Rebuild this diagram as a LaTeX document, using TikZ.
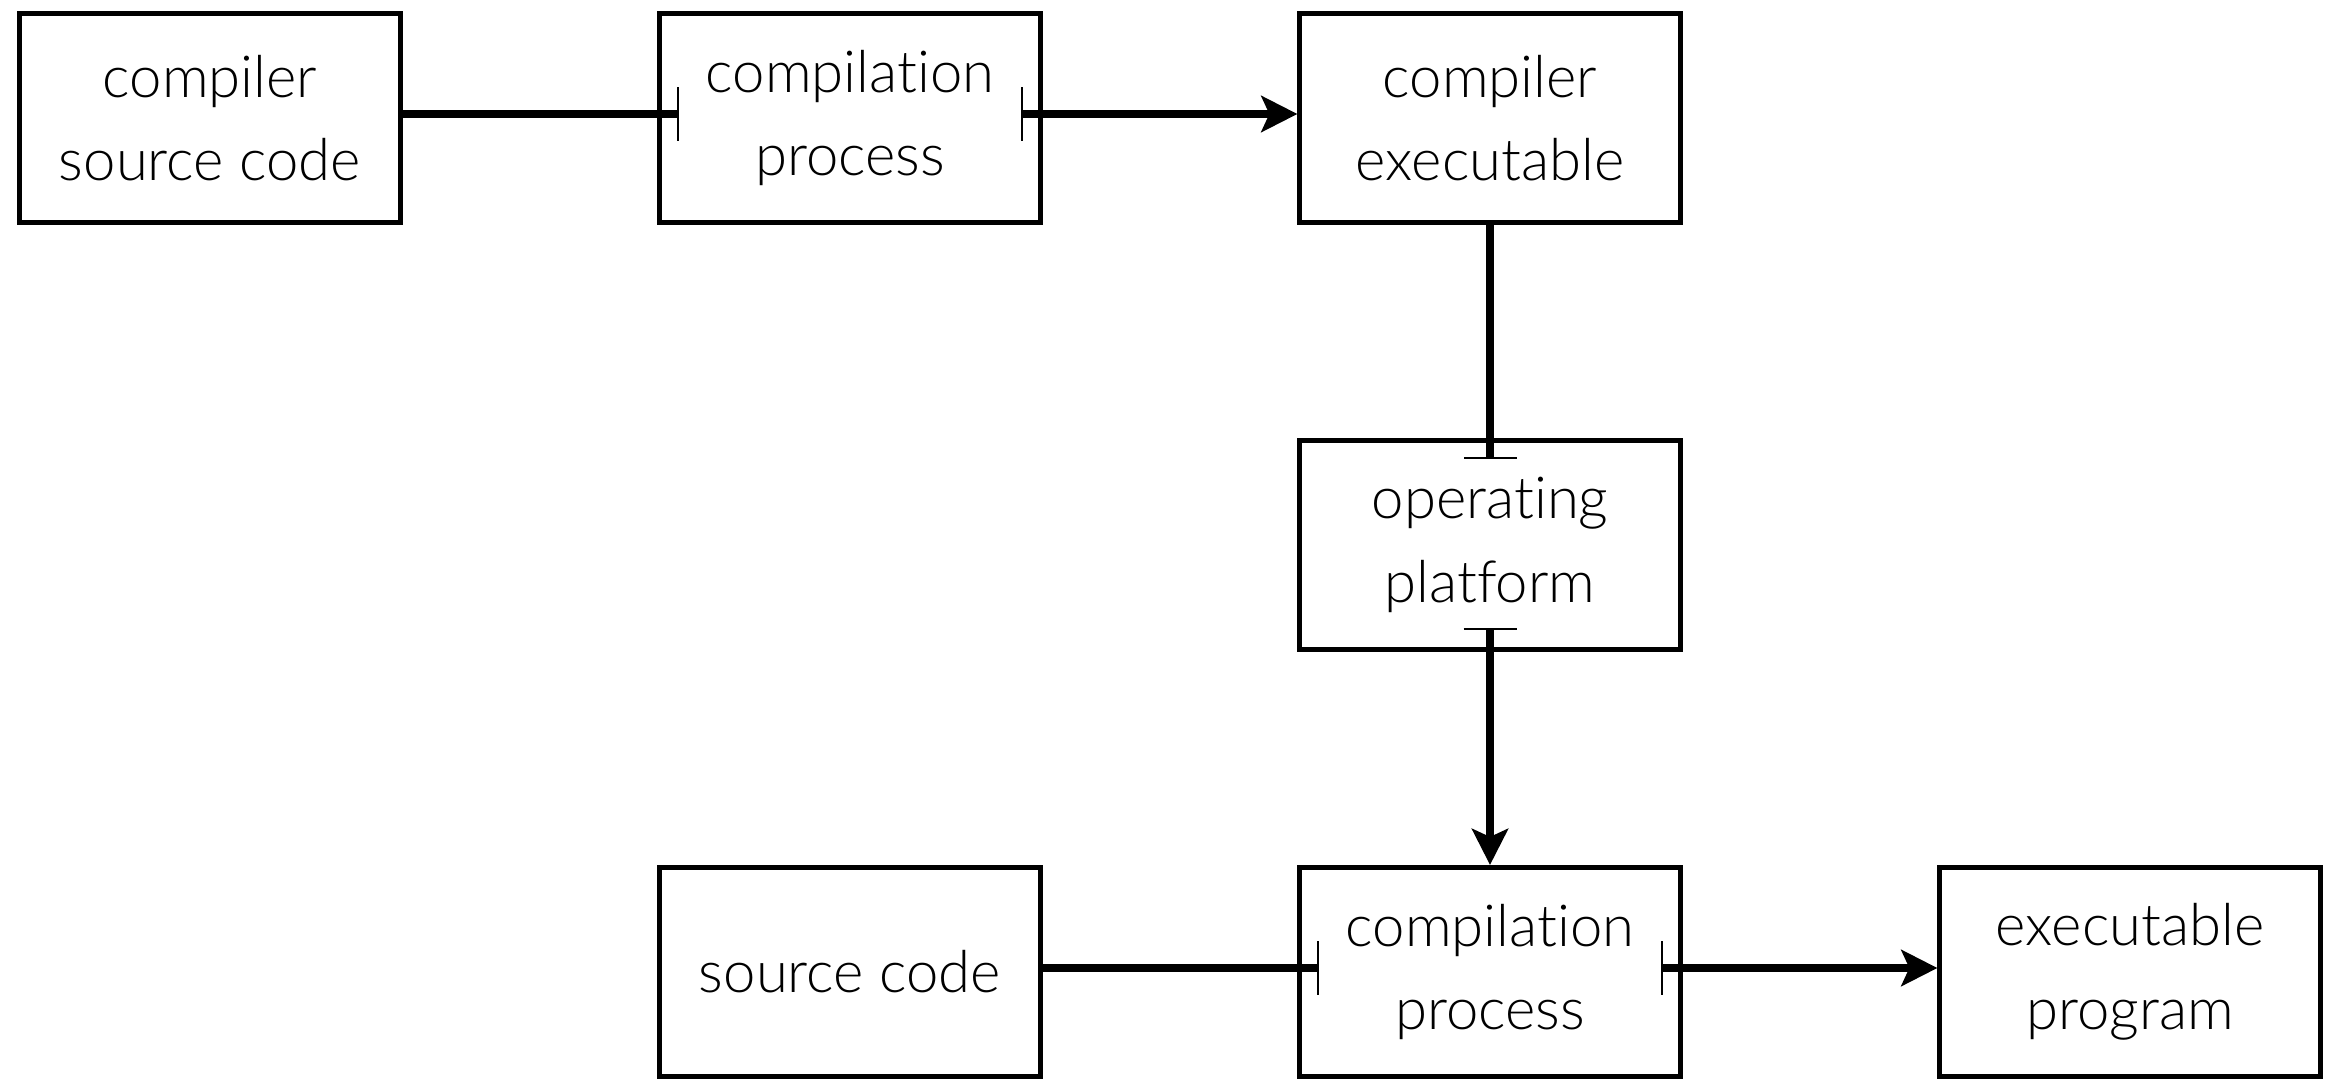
\documentclass[tikz,border=0pt]{standalone}
\usepackage{fontspec}
\setmainfont{Lato}[UprightFont=* Light, Ligatures={NoCommon,NoRare}]
\usetikzlibrary{arrows.meta}
\newcommand\nolig{\kern0pt }
\begin{document}
\begin{tikzpicture}[x=0.01cm,y=-0.01cm,
  box/.style={draw, line width=0.05cm, minimum width=3.8cm, minimum height=2.09cm,
    inner sep=0pt, align=center, font=\fontsize{16.5}{23.8}\selectfont},
  conn/.style={line width=0.08cm},
  tipbar/.tip={Bar[width=0.53cm, line width'=0.6pt]},
  tiparr/.tip={Stealth[length=0.36cm, width=0.36cm, inset=0.08cm]}]
\useasboundingbox (0,0) rectangle (2328,1079);

% boxes
\node[box] (csrc) at (210,118) {compiler\\source code};
\node[box] (cp1)  at (850,118) {compilat\nolig ion\\process};
\node[box] (cexe) at (1490,118) {compiler\\executable};
\node[box] (plat) at (1490,545) {operat\nolig ing\\plat\nolig form};
\node[box] (src)  at (850,972) {source code};
\node[box] (cp2)  at (1490,972) {compilat\nolig ion\\process};
\node[box] (exe)  at (2130,972) {executable\\program};

% bar positions just inside the process boxes
\coordinate (cp1in)  at ([xshift=0.22cm,yshift=0.04cm]cp1.west);
\coordinate (cp1out) at ([xshift=-0.22cm,yshift=0.04cm]cp1.east);
\coordinate (platin)  at ([yshift=-0.21cm]plat.north);
\coordinate (platout) at ([yshift=0.24cm]plat.south);
\coordinate (cp2in)  at ([xshift=0.22cm,yshift=0.04cm]cp2.west);
\coordinate (cp2out) at ([xshift=-0.22cm,yshift=0.04cm]cp2.east);

% connectors
\draw[conn, -tipbar] ([yshift=0.04cm]csrc.east) -- (cp1in);
\draw[conn, tipbar-tiparr] (cp1out) -- ([yshift=0.04cm]cexe.west);
\draw[conn, -tipbar] (cexe.south) -- (platin);
\draw[conn, tipbar-tiparr] (platout) -- (cp2.north);
\draw[conn, -tipbar] ([yshift=0.04cm]src.east) -- (cp2in);
\draw[conn, tipbar-tiparr] (cp2out) -- ([yshift=0.04cm]exe.west);
\end{tikzpicture}
\end{document}
